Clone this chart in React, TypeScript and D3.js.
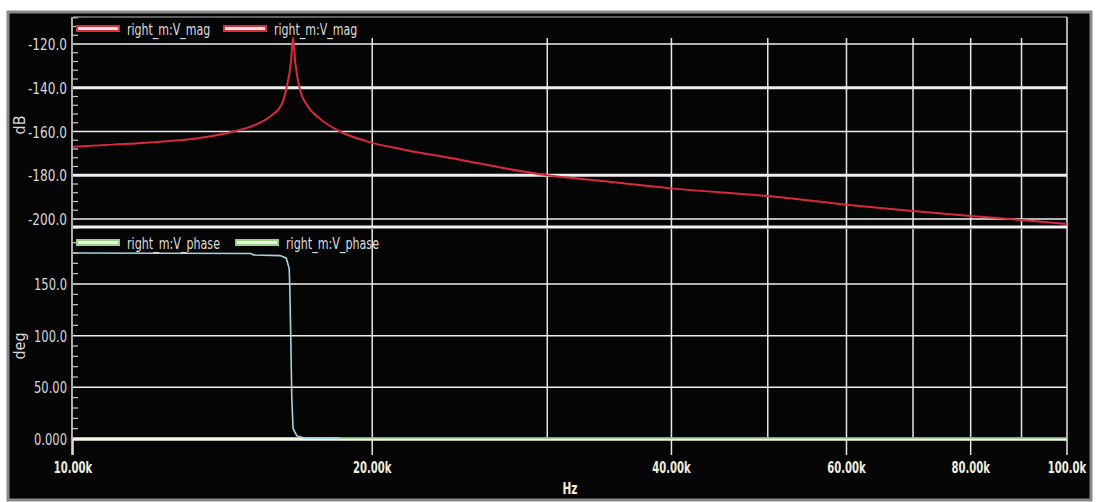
import React from 'react';
import * as d3 from 'd3';

// frequency in Hz, magnitude in dB (both traces overlap)
const magFreq = [10000, 10970, 11950, 13400, 14500, 15250, 15800, 16200, 16400, 16570, 16650, 16730, 16900, 17200, 17700, 18560, 19760, 21350, 23900, 30000, 33900, 40000, 50000, 60000, 70000, 80000, 90000, 100000];
const magDb = [-167, -166, -165, -163, -160, -157, -153, -148, -140, -128, -117, -128, -140, -148, -154, -160, -164.5, -168, -172, -180, -182.5, -186, -189.5, -193.5, -196.3, -198.6, -200.5, -202.3];

// phase in degrees
const phaseFreq = [10000, 15100, 15200, 16160, 16390, 16500, 16520, 16560, 16600, 16650, 16800, 17100, 18560];
const phaseDeg = [180, 179.5, 178, 177.5, 175, 165, 150, 100, 40, 10, 3, 1, 0.5];
const phase2Freq = [18560, 30000, 50000, 100000];
const phase2Deg = [1, 1, 1, 1];

const magTicks = [-120, -140, -160, -180, -200];
const magTickLabels = ['-120.0', '-140.0', '-160.0', '-180.0', '-200.0'];
const phaseTicks = [150, 100, 50, 0];
const phaseTickLabels = ['150.0', '100.0', '50.00', '0.000'];
const gridFreq = [20000, 30000, 40000, 50000, 60000, 70000, 80000, 90000];
const labelFreq = [10000, 20000, 40000, 60000, 80000, 100000];
const labelText = ['10.00k', '20.00k', '40.00k', '60.00k', '80.00k', '100.0k'];
const magLegend = ['right_m:V_mag', 'right_m:V_mag'];
const phaseLegend = ['right_m:V_phase', 'right_m:V_phase'];

const W = 1099;
const H = 502;
const FONT = "'Liberation Sans Narrow', 'DejaVu Sans Condensed', 'Liberation Sans', sans-serif";

// narrow text by squeezing glyphs to a width per character
const Narrow = (props: any) => {
  const { children, perChar, ...rest } = props;
  const len = String(children).length * perChar;
  return (
    <text {...rest} fontFamily={FONT} textLength={len} lengthAdjust="spacingAndGlyphs">{children}</text>
  );
};

export default function App() {
  const left = 73;
  const right = 1067;
  const magTop = 17;
  const magBottom = 226;
  const phTop = 229;
  const phBottom = 439;

  const x = d3.scaleLog().domain([10000, 100000]).range([left, right]);
  const yMag = d3.scaleLinear().domain([-120, -200]).range([44, 219]);
  const yPh = d3.scaleLinear().domain([0, 150]).range([phBottom, 284]);

  const magLine = d3.line<number>()
    .x((_, i) => x(magFreq[i]))
    .y((d) => yMag(d))
    .curve(d3.curveMonotoneX);
  const phLine = d3.line<number>()
    .x((_, i) => x(phaseFreq[i]))
    .y((d) => yPh(d));
  const ph2Line = d3.line<number>()
    .x((_, i) => x(phase2Freq[i]))
    .y((d) => yPh(d));

  const magMinor = d3.range(-204, -107, 4).filter((v) => v % 20 !== 0);
  const phMinor = d3.range(10, 201, 10).filter((v) => v % 50 !== 0);

  return (
    <svg width={W} height={H} style={{ position: 'absolute', left: 0, top: 0, background: '#fff' }}>
      <defs>
        <clipPath id="magClip">
          <rect x={left} y={magTop} width={right - left} height={magBottom - magTop} />
        </clipPath>
        <clipPath id="phClip">
          <rect x={left} y={phTop} width={right - left} height={phBottom - phTop + 2} />
        </clipPath>
      </defs>

      {/* window frame */}
      <rect x={8} y={12} width={1083} height={488} fill="#050505" stroke="#8a8a8a" strokeWidth={3} />

      {/* top panel grid */}
      {gridFreq.map((f) => (
        <line key={'mv' + f} x1={x(f)} x2={x(f)} y1={38} y2={magBottom} stroke="#e6e6e6" strokeWidth={1.5} />
      ))}
      {magTicks.map((v, i) => (
        <line key={'mh' + v} x1={left} x2={right} y1={yMag(v)} y2={yMag(v)} stroke="#eeeeee" strokeWidth={i % 2 === 1 ? 3 : 1.5} />
      ))}
      {magMinor.map((v) => (
        <line key={'mm' + v} x1={left} x2={left + 5} y1={yMag(v)} y2={yMag(v)} stroke="#cccccc" strokeWidth={1.2} />
      ))}

      {/* bottom panel grid */}
      {gridFreq.map((f) => (
        <line key={'pv' + f} x1={x(f)} x2={x(f)} y1={phTop} y2={phBottom} stroke="#e6e6e6" strokeWidth={1.5} />
      ))}
      {phaseTicks.slice(0, 3).map((v) => (
        <line key={'ph' + v} x1={left} x2={right} y1={yPh(v)} y2={yPh(v)} stroke="#eeeeee" strokeWidth={1.5} />
      ))}
      {phMinor.map((v) => (
        <line key={'pm' + v} x1={left} x2={left + 5} y1={yPh(v)} y2={yPh(v)} stroke="#cccccc" strokeWidth={1.2} />
      ))}

      {/* frame lines */}
      <line x1={left - 1} x2={left - 1} y1={magTop} y2={455} stroke="#e6e6e6" strokeWidth={1.5} />
      <line x1={right} x2={right} y1={magTop} y2={phBottom} stroke="#e6e6e6" strokeWidth={1.5} />
      <line x1={left} x2={right} y1={magTop} y2={magTop} stroke="#bbbbbb" strokeWidth={1} />
      <line x1={left} x2={right} y1={227} y2={227} stroke="#f2f2f2" strokeWidth={3} />

      {/* x ticks */}
      {labelFreq.map((f) => (
        <line key={'xt' + f} x1={x(f)} x2={x(f)} y1={phBottom} y2={455} stroke="#e6e6e6" strokeWidth={1.5} />
      ))}

      {/* curves */}
      <g clipPath="url(#magClip)">
        <path d={magLine(magDb) || ''} fill="none" stroke="#d92a3e" strokeWidth={2} />
      </g>
      <line x1={left} x2={right} y1={phBottom} y2={phBottom} stroke="#f4f7e4" strokeWidth={3.5} />
      <g clipPath="url(#phClip)">
        <path d={ph2Line(phase2Deg) || ''} fill="none" stroke="#5fa85a" strokeWidth={1.2} />
        <path d={phLine(phaseDeg) || ''} fill="none" stroke="#a7d4dc" strokeWidth={1.6} />
      </g>

      {/* legends */}
      {magLegend.map((t, i) => {
        const lx = i === 0 ? 77 : 224;
        return (
          <g key={'ml' + i}>
            <rect x={lx} y={26} width={42} height={5} fill="#f3e4e6" stroke="#d6303f" strokeWidth={2} />
            <Narrow x={lx + 50} y={35} fill="#dcdcdc" fontSize={16} perChar={6.4}>{t}</Narrow>
          </g>
        );
      })}
      {phaseLegend.map((t, i) => {
        const lx = i === 0 ? 77 : 236;
        return (
          <g key={'pl' + i}>
            <rect x={lx} y={240} width={42} height={5} fill="#e8f3de" stroke="#9ccf84" strokeWidth={2} />
            <Narrow x={lx + 50} y={249} fill="#dcdcdc" fontSize={16} perChar={6.2}>{t}</Narrow>
          </g>
        );
      })}

      {/* y labels */}
      {magTicks.map((v, i) => (
        <Narrow key={'my' + v} x={67} y={yMag(v) + 6} textAnchor="end" fill="#d8d8d8" fontSize={16} perChar={6.5}>{magTickLabels[i]}</Narrow>
      ))}
      {phaseTicks.map((v, i) => (
        <Narrow key={'py' + v} x={67} y={yPh(v) + 6} textAnchor="end" fill="#d8d8d8" fontSize={16} perChar={6.6}>{phaseTickLabels[i]}</Narrow>
      ))}
      <text transform="translate(25,125) rotate(-90)" textAnchor="middle" fill="#d8d8d8" fontSize={16} fontFamily={FONT}>dB</text>
      <text transform="translate(25,346) rotate(-90)" textAnchor="middle" fill="#d8d8d8" fontSize={16} fontFamily={FONT}>deg</text>

      {/* x labels */}
      {labelFreq.map((f, i) => (
        <Narrow key={'xl' + f} x={x(f)} y={473} textAnchor="middle" fill="#f0efe0" fontSize={16} fontWeight="bold" perChar={6.4}>{labelText[i]}</Narrow>
      ))}
      <Narrow x={570} y={494} textAnchor="middle" fill="#f0efd8" fontSize={16} fontWeight="bold" perChar={7.5}>Hz</Narrow>
    </svg>
  );
}
